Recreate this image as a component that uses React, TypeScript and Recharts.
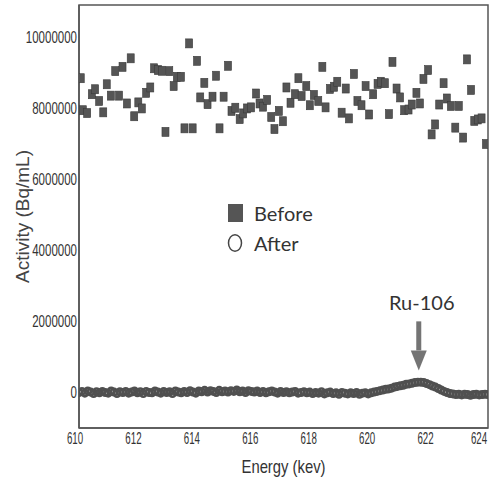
import React from 'react';
import {
  ScatterChart, Scatter, XAxis, YAxis, ReferenceArea, ReferenceLine, Legend, Label,
} from 'recharts';

const beforeEnergy = [610.06,610.13,610.28,610.44,610.55,610.69,610.83,610.95,611.09,611.24,611.37,611.49,611.64,611.77,611.89,612.03,612.15,612.30,612.44,612.57,612.70,612.84,612.96,613.09,613.24,613.35,613.49,613.61,613.77,613.89,614.04,614.15,614.29,614.40,614.57,614.69,614.81,614.95,615.10,615.22,615.35,615.50,615.62,615.75,615.89,616.06,616.18,616.30,616.44,616.58,616.69,616.84,616.98,617.10,617.24,617.39,617.51,617.62,617.78,617.90,618.04,618.19,618.33,618.44,618.59,618.73,618.84,618.99,619.13,619.24,619.41,619.53,619.67,619.81,619.93,620.07,620.22,620.33,620.47,620.61,620.73,620.87,620.99,621.13,621.28,621.39,621.55,621.67,621.79,621.95,622.07,622.19,622.33,622.48,622.59,622.73,622.88,623.00,623.15,623.28,623.42,623.53,623.65,623.78,623.93];

const beforeActivity = [8840000,7940000,7860000,8390000,8530000,8200000,7880000,8670000,8350000,9040000,8350000,9160000,8130000,9400000,7770000,8160000,7990000,8430000,8580000,9120000,9070000,9050000,7330000,9040000,8620000,8880000,8880000,7430000,9820000,7430000,9330000,8300000,8710000,8110000,8320000,8910000,7430000,8320000,9190000,7920000,8010000,7690000,7850000,7990000,8020000,8410000,8130000,8040000,8230000,7750000,7410000,7920000,7630000,8580000,8150000,8390000,8840000,8340000,8620000,8080000,8370000,8200000,9160000,8020000,8540000,8600000,8740000,7870000,8550000,7710000,8960000,8200000,8080000,8620000,7820000,8390000,8680000,8740000,8700000,7830000,9300000,8550000,8300000,7940000,7960000,8100000,8430000,8130000,8820000,9070000,7260000,7540000,8100000,8700000,8270000,8060000,7450000,8060000,7170000,9370000,8510000,7640000,7680000,7710000,6990000];

const afterEnergy = [
  610.0,610.1,610.2,610.3,610.4,610.5,610.6,610.7,610.8,610.9,
  611.0,611.1,611.2,611.3,611.4,611.5,611.6,611.7,611.8,611.9,
  612.0,612.1,612.2,612.3,612.4,612.5,612.6,612.7,612.8,612.9,
  613.0,613.1,613.2,613.3,613.4,613.5,613.6,613.7,613.8,613.9,
  614.0,614.1,614.2,614.3,614.4,614.5,614.6,614.7,614.8,614.9,
  615.0,615.1,615.2,615.3,615.4,615.5,615.6,615.7,615.8,615.9,
  616.0,616.1,616.2,616.3,616.4,616.5,616.6,616.7,616.8,616.9,
  617.0,617.1,617.2,617.3,617.4,617.5,617.6,617.7,617.8,617.9,
  618.0,618.1,618.2,618.3,618.4,618.5,618.6,618.7,618.8,618.9,
  619.0,619.1,619.2,619.3,619.4,619.5,619.6,619.7,619.8,619.9,
  620.0,620.1,620.2,620.3,620.4,620.5,620.6,620.7,620.8,620.9,
  621.0,621.1,621.2,621.3,621.4,621.5,621.6,621.7,621.8,621.9,
  622.0,622.1,622.2,622.3,622.4,622.5,622.6,622.7,622.8,622.9,
  623.0,623.1,623.2,623.3,623.4,623.5,623.6,623.7,623.8,623.9,
  624.0,
];

const afterActivity = [
  0,30000,-20000,40000,10000,-30000,20000,-10000,30000,0,
  -20000,40000,10000,-30000,20000,0,30000,-20000,10000,40000,
  -10000,20000,-30000,30000,0,-10000,40000,10000,-20000,30000,
  0,20000,-30000,40000,10000,-10000,30000,0,50000,10000,
  -20000,40000,20000,60000,10000,50000,30000,0,60000,20000,
  40000,10000,50000,30000,70000,20000,40000,0,50000,30000,
  10000,40000,0,30000,-10000,20000,40000,10000,-20000,30000,
  0,20000,-10000,10000,30000,-20000,0,20000,-10000,10000,
  -30000,0,-20000,20000,-40000,-10000,10000,-30000,-10000,-50000,
  0,-20000,-40000,-10000,-30000,0,-50000,-20000,-10000,-40000,
  -10000,10000,30000,50000,70000,90000,100000,120000,150000,170000,
  190000,200000,230000,240000,260000,280000,290000,290000,280000,250000,
  220000,180000,150000,110000,70000,30000,0,-30000,-40000,-60000,
  -50000,-70000,-50000,-60000,-80000,-60000,-50000,-70000,-60000,-50000,
  -60000,
];

const xTicks = [610, 612, 614, 616, 618, 620, 622, 624];
const yTicks = [0, 2000000, 4000000, 6000000, 8000000, 10000000];
const peakLabel = 'Ru-106';
const peakEnergy = 621.63;

const beforeData = beforeEnergy.map((x, i) => ({ x, y: beforeActivity[i] }));
const afterData = afterEnergy.map((x, i) => ({ x, y: afterActivity[i] }));

const ARIAL = "'Liberation Sans', Arial, sans-serif";
const HUMAN = "Lato, 'Open Sans', sans-serif";

const SquareShape = (props: any) => {
  const { cx, cy } = props;
  if (cx == null || cy == null) return null;
  return <rect x={cx - 3.5} y={cy - 4.5} width={7} height={9} fill="#555" stroke="#3a3a3a" strokeWidth={0.6} />;
};

const CircleShape = (props: any) => {
  const { cx, cy } = props;
  if (cx == null || cy == null) return null;
  return <circle cx={cx} cy={cy} r={3.2} fill="none" stroke="#505050" strokeWidth={2.6} />;
};

const YTick = (props: any) => {
  const { x, y, payload } = props;
  const s = String(payload.value);
  return (
    <text x={x} y={y} dy="0.36em" textAnchor="end" fontFamily={ARIAL} fontSize={16} fill="#333"
      textLength={s.length * 6.4} lengthAdjust="spacingAndGlyphs">{s}</text>
  );
};

const XTick = (props: any) => {
  const { x, y, payload } = props;
  const s = String(payload.value);
  return (
    <text x={x - 4} y={y} dy="0.75em" textAnchor="middle" fontFamily={ARIAL} fontSize={16} fill="#333"
      textLength={s.length * 5.4} lengthAdjust="spacingAndGlyphs">{s}</text>
  );
};

const XLabel = (props: any) => {
  const { viewBox } = props;
  const cx = viewBox.x + viewBox.width / 2;
  return (
    <text x={cx} y={473} textAnchor="middle" fontFamily={ARIAL} fontSize={19} fill="#333"
      textLength={84} lengthAdjust="spacingAndGlyphs">Energy (kev)</text>
  );
};

const ArrowShape = (props: any) => {
  const { x1, y1, x2, y2 } = props;
  if (x1 == null) return null;
  const headLen = 20;
  return (
    <g>
      <text x={x1 + 3} y={y1 - 11} textAnchor="middle" fontFamily={HUMAN} fontSize={20} fill="#333">
        {peakLabel}
      </text>
      <rect x={x1 - 2.5} y={y1} width={5} height={y2 - y1 - headLen} fill="#747474" />
      <polygon points={`${x1 - 8},${y2 - headLen} ${x1 + 8},${y2 - headLen} ${x2},${y2}`} fill="#747474" />
    </g>
  );
};

const LegendContent = () => (
  <div style={{ fontFamily: HUMAN, fontSize: 20, color: '#333', lineHeight: '30px' }}>
    <div style={{ display: 'flex', alignItems: 'center' }}>
      <svg width={17} height={20}><rect x={1} y={1} width={15} height={18} fill="#555" /></svg>
      <span style={{ marginLeft: 10 }}>Before</span>
    </div>
    <div style={{ display: 'flex', alignItems: 'center' }}>
      <svg width={17} height={20}><ellipse cx={8} cy={10} rx={6.5} ry={8.3} fill="none" stroke="#444" strokeWidth={1.5} /></svg>
      <span style={{ marginLeft: 10 }}>After</span>
    </div>
  </div>
);

export default function App() {
  return (
    <div style={{ position: 'absolute', left: 0, top: 0, background: '#fff' }}>
      <ScatterChart width={495} height={480} margin={{ top: 5, right: 7, bottom: 0, left: 0 }}>
        <XAxis
          type="number"
          dataKey="x"
          domain={[610, 624]}
          ticks={xTicks}
          allowDataOverflow
          height={52}
          tickLine={false}
          tickSize={0}
          tickMargin={4}
          axisLine={{ stroke: '#555', strokeWidth: 1.5 }}
          tick={XTick}
        >
          <Label content={XLabel} />
        </XAxis>
        <YAxis
          type="number"
          dataKey="y"
          domain={[-1000000, 10900000]}
          ticks={yTicks}
          allowDataOverflow
          width={79}
          tickLine={false}
          tickSize={0}
          tickMargin={2}
          axisLine={{ stroke: '#555', strokeWidth: 1.5 }}
          tick={YTick}
        >
          <Label value="Activity (Bq/mL)" angle={-90} position="insideLeft" offset={22}
            style={{ fontFamily: ARIAL, fontSize: 19, fill: '#444', textAnchor: 'middle' }} />
        </YAxis>
        <ReferenceArea x1={610} x2={624} y1={-1000000} y2={10900000} fill="none" stroke="#555" strokeWidth={1.5} />
        <Legend layout="horizontal" verticalAlign="middle" align="center" content={LegendContent}
          wrapperStyle={{ left: 227, top: 198, width: 130 }} />
        <Scatter name="Before" data={beforeData} shape={SquareShape} isAnimationActive={false} />
        <Scatter name="After" data={afterData} shape={CircleShape} isAnimationActive={false} />
        <ReferenceLine
          segment={[{ x: peakEnergy, y: 2000000 }, { x: peakEnergy, y: 620000 }]}
          shape={ArrowShape}
        />
      </ScatterChart>
    </div>
  );
}
